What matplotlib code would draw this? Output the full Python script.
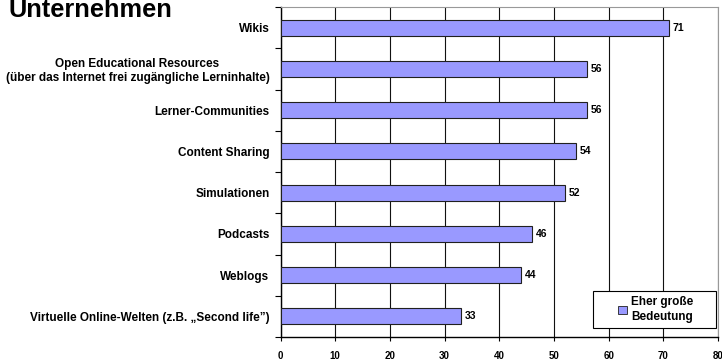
import matplotlib
matplotlib.use("Agg")
import matplotlib.pyplot as plt
from matplotlib.patches import Patch, Rectangle

categories = [
    "Wikis",
    "Open Educational Resources\n(über das Internet frei zugängliche Lerninhalte)",
    "Lerner-Communities",
    "Content Sharing",
    "Simulationen",
    "Podcasts",
    "Weblogs",
    "Virtuelle Online-Welten (z.B. \u201eSecond life\u201d)",
]
values = [71, 56, 56, 54, 52, 46, 44, 33]
xticks = [0, 10, 20, 30, 40, 50, 60, 70, 80]
legend_label = "Eher große\nBedeutung"
title = "Unternehmen"

plt.rcParams['font.family'] = ['Liberation Sans', 'DejaVu Sans']
fig = plt.figure(figsize=(7.22, 3.6), dpi=100)
ax = fig.add_axes([280.5/722, 1 - 337/360, (718 - 280.5)/722, (337 - 7)/360])

n = len(categories)
ypos = list(range(n))
ax.barh(ypos, values, height=0.39, color='#9999FF', edgecolor='#202020', linewidth=0.8, zorder=3)
for y, v in zip(ypos, values):
    ax.text(v + 0.7, y, str(v), va='center', ha='left', fontsize=7.5, fontweight='bold', zorder=4)

ax.set_ylim(n - 0.5, -0.5)
ax.set_xlim(0, 80)
ax.set_xticks(xticks)
ax.set_xticklabels([str(t) for t in xticks], fontsize=7, fontweight='bold')
ax.set_yticks(ypos)
ax.set_yticklabels(categories, fontsize=8.5, fontweight='bold', multialignment='center')
ax.tick_params(axis='y', length=0, pad=8)
ax.tick_params(axis='x', length=3, direction='out', pad=7, width=0.8)
ax.set_yticks([i + 0.5 for i in range(-1, n)], minor=True)
ax.tick_params(axis='y', which='minor', length=4, direction='out', width=0.8)
ax.grid(axis='x', color='#111111', linewidth=0.8, zorder=0)
for s in ['top', 'right']:
    ax.spines[s].set_color('#999999')
    ax.spines[s].set_linewidth(0.8)
ax.spines['left'].set_linewidth(1.0)
ax.spines['bottom'].set_linewidth(1.0)

# legend box
x0 = (593 - 280.5) / 437.5
x1 = (716 - 280.5) / 437.5
y0 = (337 - 328) / 330
y1 = (337 - 291) / 330
ax.add_patch(Rectangle((x0, y0), x1 - x0, y1 - y0, transform=ax.transAxes,
                       facecolor='white', edgecolor='black', linewidth=0.8, zorder=5))
leg = ax.legend(handles=[Patch(facecolor='#9999FF', edgecolor='#202020', linewidth=0.6)],
                labels=[legend_label], loc='center', bbox_to_anchor=((x0 + x1) / 2 + 0.003, (y0 + y1) / 2),
                prop={'weight': 'bold', 'size': 8.5}, frameon=False,
                handlelength=0.75, handleheight=0.75, handletextpad=0.3, borderpad=0.0)
leg.set_zorder(6)
for t in leg.get_texts():
    t.set_multialignment('center')
    t.set_linespacing(1.3)

fig.text(8/722, 1 - 17/360, title, fontsize=18.3, fontweight='bold', va='baseline', ha='left')

fig.savefig("out.png", dpi=100)
